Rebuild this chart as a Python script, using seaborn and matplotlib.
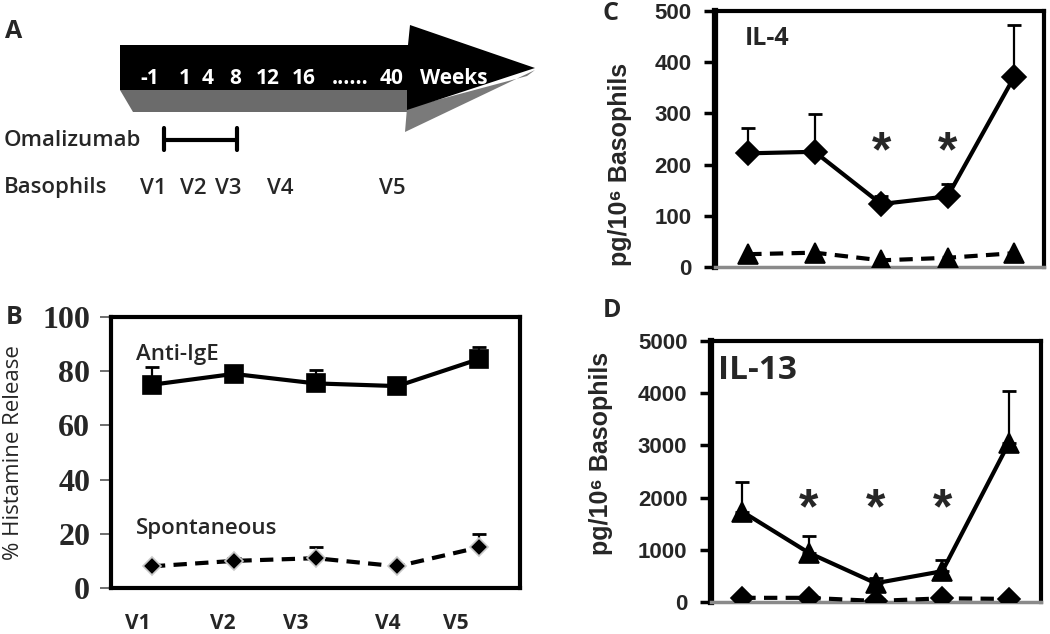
import numpy as np
import pandas as pd
import seaborn as sns
import matplotlib.pyplot as plt
from matplotlib.patches import Polygon

# ---- panel A: study timeline ----
weeks = ["-1", "1", "4", "8", "12", "16", "......", "40", "Weeks"]
week_x = [150, 185, 208, 235, 268, 304, 350, 392, 454]
visits = ["V1", "V2", "V3", "V4", "V5"]
visit_x = [153, 193, 228, 280, 392]

# ---- panel B: histamine release (%) ----
visit_idx = [1, 2, 3, 4, 5]
anti_ige = [75, 79, 75.5, 74.5, 84.5]
anti_ige_err = [6.5, 2, 5, 1, 4.5]
spont = [8, 10, 11, 8, 15]
spont_err = [1, 1, 4, 1, 5]
b_label_pos = [0.83, 1.87, 2.76, 3.88, 4.71]

# ---- panel C: IL-4 (pg/10^6 basophils) ----
il4 = [222, 225, 123, 138, 371]
il4_err = [49, 73, 15, 25, 102]
il4_spont = [25, 28, 13, 18, 27]
il4_sig = [3, 4]

# ---- panel D: IL-13 (pg/10^6 basophils) ----
il13 = [1730, 940, 360, 590, 3050]
il13_err = [570, 330, 100, 220, 1000]
il13_spont = [80, 80, 20, 70, 60]
il13_sig = [2, 3, 4]

sns.set_theme(style="white")
plt.rcParams['font.family'] = ['Open Sans', 'DejaVu Sans']
plt.rcParams['font.weight'] = 'semibold'

W, H = 1050, 634
fig = plt.figure(figsize=(10.5, 6.34), dpi=100)


def px_axes(l, t, r, b):
    return fig.add_axes([l / W, 1 - b / H, (r - l) / W, (b - t) / H])


def series(ax, y, err, marker, ms, dashed=False, mec='black'):
    df = pd.DataFrame({'visit': visit_idx, 'value': y})
    if err is not None:
        ax.errorbar(visit_idx, y, yerr=[np.zeros(len(err)), err], fmt='none',
                    ecolor='black', elinewidth=1.6, capsize=5, capthick=2, zorder=2)
    kw = dict(linestyle=(0, (3.2, 2.0))) if dashed else {}
    sns.lineplot(data=df, x='visit', y='value', ax=ax, color='black',
                 linewidth=3, marker=marker, markersize=ms,
                 markeredgecolor=mec, markeredgewidth=1.2, zorder=3, **kw)


# ---------------- panel A ----------------
axA = px_axes(0, 0, 560, 210)
axA.set_xlim(0, 560)
axA.set_ylim(210, 0)
axA.axis('off')
axA.add_patch(Polygon([(120, 90), (407, 90), (407, 112), (133, 112)],
                      closed=True, fc='#6b6b6b', ec='none'))
axA.add_patch(Polygon([(407, 108), (527, 76), (535, 70), (405, 132)],
                      closed=True, fc='#7a7a7a', ec='none'))
axA.add_patch(Polygon([(120, 45), (408, 45), (410, 25), (535, 68),
                       (407, 110), (407, 90), (120, 90)],
                      closed=True, fc='black', ec='none'))
for lab, x in zip(weeks, week_x):
    axA.text(x, 78, lab, color='white', fontsize=15, fontweight='bold',
             ha='center', va='center')
axA.plot([164, 237], [140, 140], color='black', lw=3)
axA.plot([164, 164], [128, 150], color='black', lw=3)
axA.plot([237, 237], [128, 150], color='black', lw=3)
axA.text(4, 140, "Omalizumab", fontsize=16, ha='left', va='center')
axA.text(4, 188, "Basophils", fontsize=16, ha='left', va='center')
for lab, x in zip(visits, visit_x):
    axA.text(x, 188, lab, fontsize=16, ha='center', va='center')

# ---------------- panel B ----------------
axB = px_axes(111, 317, 520, 588)
series(axB, anti_ige, anti_ige_err, 's', 13)
series(axB, spont, spont_err, 'D', 9, dashed=True, mec='#c8c8c8')
axB.set_xlim(0.5, 5.5)
axB.set_ylim(0, 100)
axB.set_yticks(range(0, 101, 20))
for lab in axB.get_yticklabels():
    lab.set_fontfamily('Liberation Serif')
    lab.set_fontweight('bold')
    lab.set_fontsize(23)
axB.tick_params(axis='y', direction='out', length=8, width=1.2, color='#555555',
                pad=7, left=True)
axB.set_xticks(b_label_pos, labels=visits)
axB.tick_params(axis='x', length=0, pad=18, labelsize=15)
for lab in axB.get_xticklabels():
    lab.set_fontweight('bold')
for s in axB.spines.values():
    s.set_linewidth(3)
    s.set_color('black')
axB.set_xlabel('')
axB.set_ylabel('% Histamine Release', fontsize=16)
axB.yaxis.set_label_coords(-0.212, 0.5)
axB.text(0.8, 86, "Anti-IgE", fontsize=16, ha='left', va='center')
axB.text(0.8, 21.8, "Spontaneous", fontsize=16, ha='left', va='center')


def cyto_axes(ax, ymax, step, label_xy):
    ax.set_ylim(0, ymax)
    ax.set_yticks(np.arange(0, ymax + 1, step))
    ax.set_xticks([])
    ax.set_xlabel('')
    for lab in ax.get_yticklabels():
        lab.set_fontfamily('Liberation Sans')
        lab.set_fontweight('bold')
        lab.set_fontsize(16)
    ax.tick_params(axis='y', direction='out', length=8, width=2.5,
                   color='black', pad=9, left=True)
    for k, s in ax.spines.items():
        s.set_color('black')
        s.set_linewidth(3)
    ax.spines['left'].set_linewidth(4.5)
    ax.spines['bottom'].set_color('#8a8a8a')
    ax.spines['bottom'].set_linewidth(2.5)
    ax.set_ylabel("pg/10\u2076 Basophils", fontsize=18, fontweight='bold',
                  family=['Liberation Sans', 'DejaVu Sans'])
    ax.yaxis.set_label_coords(*label_xy)


# ---------------- panel C ----------------
axC = px_axes(715, 11, 1044, 267)
series(axC, il4, il4_err, 'D', 12)
series(axC, il4_spont, None, '^', 14, dashed=True)
axC.set_xlim(0.5, 5.45)
cyto_axes(axC, 500, 100, (-0.252, 0.40))
axC.text(0.95, 447, "IL-4", fontsize=18, fontweight='bold', ha='left', va='center')
for v in il4_sig:
    axC.text(v, 222, "*", fontsize=36, fontweight='bold', ha='center',
             va='center', family='Liberation Sans')

# ---------------- panel D ----------------
axD = px_axes(711, 341, 1041, 602)
series(axD, il13, il13_err, '^', 14)
series(axD, il13_spont, None, 'D', 11, dashed=True)
axD.set_xlim(0.53, 5.48)
cyto_axes(axD, 5000, 1000, (-0.297, 0.57))
axD.text(0.64, 4444, "IL-13", fontsize=24, fontweight='bold', ha='left', va='center')
for v in il13_sig:
    axD.text(v, 1760, "*", fontsize=36, fontweight='bold', ha='center',
             va='center', family='Liberation Sans')

# panel letters
for letter, x, y in [("A", 14, 32), ("B", 14, 318), ("C", 610, 14), ("D", 612, 310)]:
    fig.text(x / W, 1 - y / H, letter, fontsize=18, fontweight='bold',
             ha='center', va='center')

fig.savefig("out.png", dpi=100)
